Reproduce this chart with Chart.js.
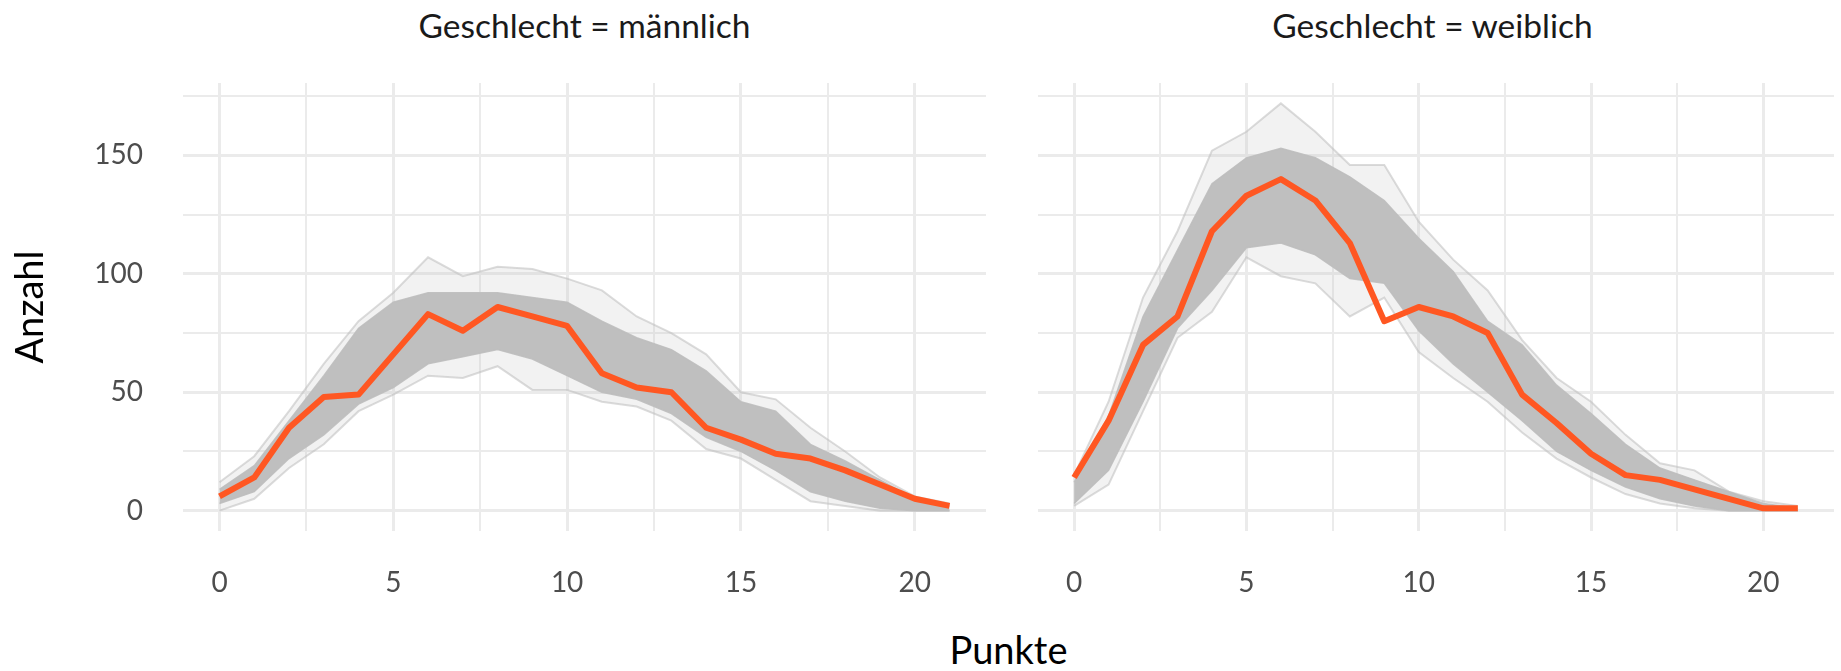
<!DOCTYPE html>
<html lang="de">
<head>
<meta charset="UTF-8">
<title>Anzahl nach Punkten und Geschlecht</title>
<script src="https://cdn.jsdelivr.net/npm/chart.js"></script>
<style>
    body, html {
        margin: 0;
        padding: 0;
        width: 1841px;
        height: 671px;
        overflow: hidden;
        background: #fff;
        font-family: Lato, sans-serif;
    }
    /* ein Panel pro Geschlecht */
    .panel {
        position: absolute;
        top: 0;
        height: 601px;
    }
    #panelM { left: 0; width: 986px; }
    #panelW { left: 1031px; width: 803px; }

    .strip {
        position: absolute;
        top: 8px;
        width: 803px;
        text-align: center;
        font-size: 33.5px;
        line-height: 34px;
        color: #1a1a1a;
    }
    #stripM { left: 183px; }
    #stripW { left: 1031px; }

    #xTitle {
        position: absolute;
        left: 183px;
        width: 1651px;
        top: 630px;
        text-align: center;
        font-size: 38px;
        line-height: 38px;
        color: #000;
    }
</style>
</head>
<body>
    <div id="stripM" class="strip">Geschlecht = männlich</div>
    <div id="stripW" class="strip">Geschlecht = weiblich</div>
    <div id="panelM" class="panel"><canvas id="chartM"></canvas></div>
    <div id="panelW" class="panel"><canvas id="chartW"></canvas></div>
    <div id="xTitle">Punkte</div>

<script>
    // Punkte 0..21
    const punkte = [0, 1, 2, 3, 4, 5, 6, 7, 8, 9, 10, 11, 12, 13, 14, 15, 16, 17, 18, 19, 20, 21];
    const xTickLabels = [0, 5, 10, 15, 20];
    const yTickLabels = [0, 50, 100, 150];

    // männlich: beobachtete Anzahl und Band der simulierten Verteilungen
    const maennlichBeob  = [6, 14, 35, 48, 49, 66, 83, 76, 86, 82, 78, 58, 52, 50, 35, 30, 24, 22, 17, 11, 5, 2];
    const maennlichKernU = [3, 8, 22, 32, 45, 52, 62, 65, 68, 64, 57, 50, 47, 41, 31, 25, 17, 8, 4, 1, 0, 0];
    const maennlichKernO = [9, 19, 38, 57, 77, 88, 92, 92, 92, 90, 88, 80, 73, 68, 59, 46, 42, 28, 21, 13, 5, 2];
    const maennlichMin   = [0, 5, 18, 28, 42, 49, 57, 56, 61, 51, 51, 46, 44, 38, 26, 22, 13, 4, 2, 0, 0, 0];
    const maennlichMax   = [12, 23, 42, 62, 80, 92, 107, 99, 103, 102, 98, 93, 82, 75, 66, 50, 47, 35, 25, 14, 6, 3];

    // weiblich
    const weiblichBeob  = [14, 38, 70, 82, 118, 133, 140, 131, 113, 80, 86, 82, 75, 49, 37, 24, 15, 13, 9, 5, 1, 1];
    const weiblichKernU = [3, 17, 46, 77, 93, 111, 113, 108, 98, 96, 76, 62, 50, 38, 25, 17, 10, 5, 2, 0, 0, 0];
    const weiblichKernO = [12, 40, 82, 110, 138, 149, 153, 149, 141, 131, 115, 101, 80, 70, 53, 41, 28, 18, 13, 8, 3, 1];
    const weiblichMin   = [2, 11, 42, 73, 84, 107, 99, 96, 82, 90, 67, 56, 46, 33, 22, 14, 7, 3, 1, 0, 0, 0];
    const weiblichMax   = [15, 46, 90, 118, 152, 160, 172, 160, 146, 146, 122, 106, 93, 72, 56, 46, 32, 20, 17, 8, 4, 2];

    const ORANGE = '#ff5722';
    const GRID = '#ebebeb';
    const FONT = 'Lato, sans-serif';

    function toXY(values) {
        return punkte.map((p, i) => ({ x: p, y: values[i] }));
    }

    function makePanel(canvasId, beob, kernU, kernO, min, max, showY) {
        const datasets = [
            { data: toXY(beob), borderColor: ORANGE, borderWidth: 6, borderJoinStyle: 'round', order: 0 },
            { data: toXY(kernU), borderColor: 'rgba(190,190,190,0.9)', borderWidth: 1.5, order: 1 },
            { data: toXY(kernO), borderColor: 'rgba(190,190,190,0.9)', borderWidth: 1.5, order: 1,
              fill: '-1', backgroundColor: 'rgb(191,191,191)' },
            { data: toXY(min), borderColor: 'rgba(190,190,190,0.55)', borderWidth: 2, order: 2 },
            { data: toXY(max), borderColor: 'rgba(190,190,190,0.55)', borderWidth: 2, order: 2,
              fill: '-1', backgroundColor: 'rgba(190,190,190,0.2)' }
        ];

        return new Chart(document.getElementById(canvasId), {
            type: 'line',
            data: { datasets: datasets },
            options: {
                responsive: true,
                maintainAspectRatio: false,
                animation: false,
                elements: { point: { radius: 0 }, line: { tension: 0 } },
                layout: { padding: { top: 83, left: 0, right: 0, bottom: 0 } },
                plugins: { legend: { display: false }, tooltip: { enabled: false } },
                scales: {
                    x: {
                        type: 'linear',
                        min: -1.05,
                        max: 22.05,
                        border: { display: false },
                        grid: {
                            color: GRID,
                            drawTicks: false,
                            lineWidth: c => (c.tick && c.tick.value % 5 === 0) ? 3 : 2
                        },
                        ticks: {
                            stepSize: 2.5,
                            includeBounds: false,
                            maxTicksLimit: 30,
                            autoSkip: false,
                            maxRotation: 0,
                            padding: 35,
                            color: '#4d4d4d',
                            font: { family: FONT, size: 28 },
                            callback: v => xTickLabels.includes(v) ? String(v) : ''
                        },
                        afterFit: s => { s.height = 70; }
                    },
                    y: {
                        min: -8.6,
                        max: 180.6,
                        border: { display: false },
                        grid: {
                            color: GRID,
                            drawTicks: false,
                            lineWidth: c => (c.tick && c.tick.value % 50 === 0) ? 3 : 2
                        },
                        ticks: {
                            display: showY,
                            stepSize: 25,
                            includeBounds: false,
                            maxTicksLimit: 30,
                            autoSkip: false,
                            padding: 40,
                            color: '#4d4d4d',
                            font: { family: FONT, size: 28 },
                            callback: v => yTickLabels.includes(v) ? String(v) : ''
                        },
                        title: {
                            display: showY,
                            text: 'Anzahl',
                            color: '#000',
                            font: { family: FONT, size: 38 },
                            padding: { top: 8, bottom: 0 }
                        },
                        afterFit: s => { s.width = showY ? 183 : 0; }
                    }
                }
            }
        });
    }

    makePanel('chartM', maennlichBeob, maennlichKernU, maennlichKernO, maennlichMin, maennlichMax, true);
    makePanel('chartW', weiblichBeob, weiblichKernU, weiblichKernO, weiblichMin, weiblichMax, false);
</script>
</body>
</html>
